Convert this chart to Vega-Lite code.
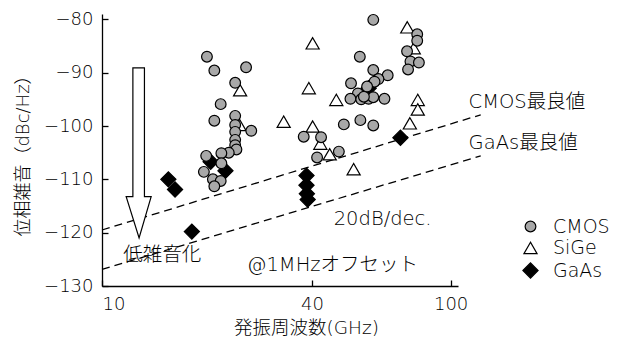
{
  "$schema": "https://vega.github.io/schema/vega-lite/v6.json",
  "width": 356,
  "height": 272,
  "autosize": {"type": "none"},
  "padding": {"left": 102, "top": 14, "right": 165, "bottom": 54},
  "background": "white",
  "datasets": {
    "pts": [
      {"type": "GaAs", "f": 15.5, "v": -110.0},
      {"type": "GaAs", "f": 16.2, "v": -111.9},
      {"type": "GaAs", "f": 18.1, "v": -119.8},
      {"type": "GaAs", "f": 20.5, "v": -106.7},
      {"type": "GaAs", "f": 22.6, "v": -108.4},
      {"type": "GaAs", "f": 38.6, "v": -109.3},
      {"type": "GaAs", "f": 38.6, "v": -111.1},
      {"type": "GaAs", "f": 38.7, "v": -112.7},
      {"type": "GaAs", "f": 38.9, "v": -113.8},
      {"type": "GaAs", "f": 71.8, "v": -102.2},
      {"type": "GaAs", "f": 58.2, "v": -92.9},
      {"type": "SiGe", "f": 24.9, "v": -93.3},
      {"type": "SiGe", "f": 24.8, "v": -99.8},
      {"type": "SiGe", "f": 33.2, "v": -99.2},
      {"type": "SiGe", "f": 40.2, "v": -84.5},
      {"type": "SiGe", "f": 39.2, "v": -92.9},
      {"type": "SiGe", "f": 47.0, "v": -95.1},
      {"type": "SiGe", "f": 40.2, "v": -100.1},
      {"type": "SiGe", "f": 42.3, "v": -103.3},
      {"type": "SiGe", "f": 45.0, "v": -105.3},
      {"type": "SiGe", "f": 52.7, "v": -108.1},
      {"type": "SiGe", "f": 75.1, "v": -81.5},
      {"type": "SiGe", "f": 78.4, "v": -85.4},
      {"type": "SiGe", "f": 80.5, "v": -95.1},
      {"type": "SiGe", "f": 80.5, "v": -96.9},
      {"type": "SiGe", "f": 76.4, "v": -99.5},
      {"type": "CMOS", "f": 20.0, "v": -87.0},
      {"type": "CMOS", "f": 21.0, "v": -89.6},
      {"type": "CMOS", "f": 25.9, "v": -89.0},
      {"type": "CMOS", "f": 24.1, "v": -91.9},
      {"type": "CMOS", "f": 21.9, "v": -95.9},
      {"type": "CMOS", "f": 21.0, "v": -99.0},
      {"type": "CMOS", "f": 24.1, "v": -98.1},
      {"type": "CMOS", "f": 24.1, "v": -99.8},
      {"type": "CMOS", "f": 24.1, "v": -101.1},
      {"type": "CMOS", "f": 26.8, "v": -100.9},
      {"type": "CMOS", "f": 24.1, "v": -102.6},
      {"type": "CMOS", "f": 24.1, "v": -103.6},
      {"type": "CMOS", "f": 24.3, "v": -104.4},
      {"type": "CMOS", "f": 23.1, "v": -105.0},
      {"type": "CMOS", "f": 22.0, "v": -105.1},
      {"type": "CMOS", "f": 19.9, "v": -105.6},
      {"type": "CMOS", "f": 22.0, "v": -107.0},
      {"type": "CMOS", "f": 19.6, "v": -108.6},
      {"type": "CMOS", "f": 20.8, "v": -110.0},
      {"type": "CMOS", "f": 21.9, "v": -110.3},
      {"type": "CMOS", "f": 21.0, "v": -111.3},
      {"type": "CMOS", "f": 37.9, "v": -102.0},
      {"type": "CMOS", "f": 42.5, "v": -102.1},
      {"type": "CMOS", "f": 41.4, "v": -105.9},
      {"type": "CMOS", "f": 47.8, "v": -104.8},
      {"type": "CMOS", "f": 60.0, "v": -80.1},
      {"type": "CMOS", "f": 54.9, "v": -87.0},
      {"type": "CMOS", "f": 60.0, "v": -89.5},
      {"type": "CMOS", "f": 66.0, "v": -90.5},
      {"type": "CMOS", "f": 62.1, "v": -91.2},
      {"type": "CMOS", "f": 60.5, "v": -91.7},
      {"type": "CMOS", "f": 51.8, "v": -92.0},
      {"type": "CMOS", "f": 54.2, "v": -93.9},
      {"type": "CMOS", "f": 51.6, "v": -94.9},
      {"type": "CMOS", "f": 55.4, "v": -95.0},
      {"type": "CMOS", "f": 58.2, "v": -94.9},
      {"type": "CMOS", "f": 60.0, "v": -94.6},
      {"type": "CMOS", "f": 64.6, "v": -94.9},
      {"type": "CMOS", "f": 56.4, "v": -94.5},
      {"type": "CMOS", "f": 57.6, "v": -92.6},
      {"type": "CMOS", "f": 49.4, "v": -99.7},
      {"type": "CMOS", "f": 55.1, "v": -98.9},
      {"type": "CMOS", "f": 60.0, "v": -99.9},
      {"type": "CMOS", "f": 80.2, "v": -82.8},
      {"type": "CMOS", "f": 80.2, "v": -84.0},
      {"type": "CMOS", "f": 75.0, "v": -86.0},
      {"type": "CMOS", "f": 76.7, "v": -87.9},
      {"type": "CMOS", "f": 81.1, "v": -88.1},
      {"type": "CMOS", "f": 75.5, "v": -89.4}
    ],
    "lines": [
      {"line": "CMOS", "f": 10, "v": -119.5},
      {"line": "CMOS", "f": 122, "v": -97.9},
      {"line": "GaAs", "f": 10, "v": -126.9},
      {"line": "GaAs", "f": 122, "v": -105.6}
    ],
    "notes": [
      {"label": "CMOS最良値", "f": 112.6, "v": -95.45},
      {"label": "GaAs最良値", "f": 112.6, "v": -103.25},
      {"label": "20dB/dec.", "f": 46.2, "v": -117.5},
      {"label": "@1MHzオフセット", "f": 26.05, "v": -126.07},
      {"label": "低雑音化", "f": 11.51, "v": -124.2}
    ],
    "arrow": [
      {"f": 12.74, "v": -105.05}
    ]
  },
  "layer": [
    {
      "data": {"name": "lines"},
      "mark": {"type": "line", "color": "black", "strokeWidth": 1.3, "strokeDash": [8, 5], "clip": false},
      "encoding": {
        "x": {"field": "f", "type": "quantitative"},
        "y": {"field": "v", "type": "quantitative"},
        "detail": {"field": "line"}
      }
    },
    {
      "data": {"name": "arrow"},
      "mark": {
        "type": "point",
        "shape": "M -0.068 -1 L 0.068 -1 L 0.068 0.514 L 0.147 0.514 L 0.005 1 L -0.147 0.514 L -0.068 0.514 Z",
        "size": 28900,
        "filled": true,
        "fill": "white",
        "stroke": "black",
        "strokeWidth": 1.2,
        "opacity": 1
      },
      "encoding": {
        "x": {"field": "f", "type": "quantitative"},
        "y": {"field": "v", "type": "quantitative"}
      }
    },
    {
      "data": {"name": "pts"},
      "mark": {"type": "point", "filled": true, "opacity": 1, "stroke": "black", "strokeWidth": 1.2},
      "encoding": {
        "x": {
          "field": "f", "type": "quantitative",
          "scale": {"type": "log", "domain": [10, 105], "nice": false},
          "axis": {
            "values": [10, 40, 100],
            "labelExpr": "format(datum.value, 'd')",
            "title": "発振周波数(GHz)",
            "titleX": 204,
            "titleY": 41,
            "titleBaseline": "middle",
            "titleFontSize": 18.5,
            "tickSize": -6,
            "labelPadding": 15,
            "labelFontSize": 18
          }
        },
        "y": {
          "field": "v", "type": "quantitative",
          "scale": {"domain": [-130, -79], "nice": false, "zero": false},
          "axis": {
            "values": [-130, -120, -110, -100, -90, -80],
            "title": "位相雑音（dBc/Hz）",
            "titleX": -70,
            "titleY": 137,
            "titleAngle": -90,
            "titleBaseline": "bottom",
            "titleFontSize": 18,
            "tickSize": -6,
            "labelPadding": 15,
            "labelFontSize": 18
          }
        },
        "shape": {
          "field": "type", "type": "nominal",
          "scale": {"domain": ["CMOS", "SiGe", "GaAs"], "range": ["circle", "triangle-up", "diamond"]},
          "legend": {
            "title": null,
            "orient": "none",
            "legendX": 419,
            "legendY": 203,
            "labelFontSize": 19,
            "labelOffset": 13,
            "rowPadding": 1.5,
            "symbolStrokeColor": "black",
            "symbolStrokeWidth": 1.2,
            "symbolOpacity": 1
          }
        },
        "fill": {
          "field": "type", "type": "nominal",
          "scale": {"domain": ["CMOS", "SiGe", "GaAs"], "range": ["#a8a8a8", "#ffffff", "#000000"]}
        },
        "size": {
          "field": "type", "type": "nominal",
          "scale": {"domain": ["CMOS", "SiGe", "GaAs"], "range": [115, 230, 170]}
        }
      }
    },
    {
      "data": {"name": "notes"},
      "mark": {"type": "text", "align": "left", "baseline": "middle", "fontSize": 19.5, "fontWeight": 200, "font": "DejaVu Sans, Noto Sans CJK JP", "color": "black", "clip": false},
      "encoding": {
        "x": {"field": "f", "type": "quantitative"},
        "y": {"field": "v", "type": "quantitative"},
        "text": {"field": "label"}
      }
    }
  ],
  "config": {
    "view": {"stroke": null},
    "font": "DejaVu Sans, Noto Sans CJK JP",
    "axis": {
      "grid": false,
      "domainColor": "black",
      "domainWidth": 1.3,
      "tickColor": "black",
      "tickWidth": 1.3,
      "labelColor": "black",
      "titleColor": "black",
      "labelFont": "DejaVu Sans, Noto Sans CJK JP",
      "titleFont": "DejaVu Sans, Noto Sans CJK JP",
      "labelFontWeight": 200,
      "titleFontWeight": 200
    },
    "legend": {
      "labelFont": "DejaVu Sans, Noto Sans CJK JP",
      "labelFontWeight": 200,
      "labelColor": "black"
    }
  }
}
